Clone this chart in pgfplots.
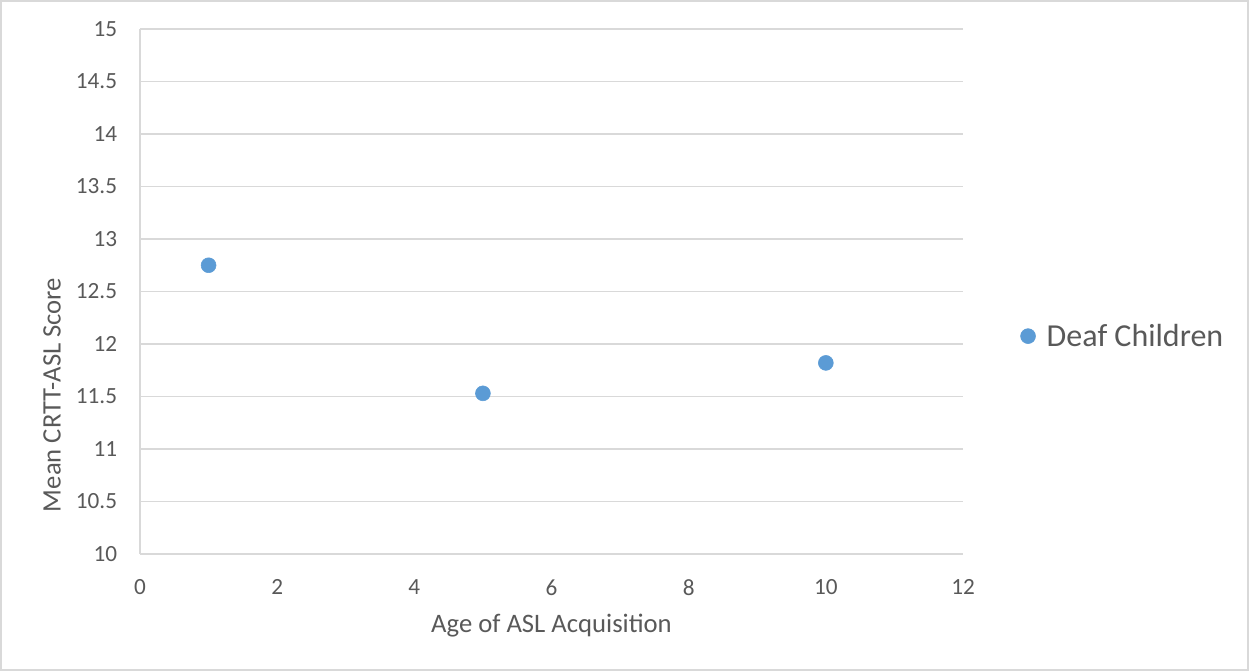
\documentclass[border=0pt]{standalone}
\usepackage{pgfplots}
\pgfplotsset{compat=1.18}
\usepackage{fontspec}
\setmainfont{Carlito}

\definecolor{txtgray}{HTML}{595959}
\definecolor{gridgray}{HTML}{D9D9D9}
\definecolor{dotblue}{HTML}{5B9BD5}

\begin{document}
\begin{tikzpicture}
  % page frame (1 px = 0.75 pt)
  \path[use as bounding box] (0,0) rectangle (936.75pt,503.25pt);
  \draw[gridgray, line width=1.2pt] (0.6pt,0.6pt) rectangle (936.15pt,502.65pt);

  \begin{axis}[
    at={(105pt,87.75pt)}, anchor=south west,
    scale only axis,
    width=617.25pt, height=393.75pt,
    xmin=0, xmax=12, ymin=10, ymax=15,
    xtick={0,2,...,12},
    ytick={10,10.5,...,15},
    axis x line*=bottom, axis y line*=left,
    axis line style={gridgray, line width=1.2pt, -},
    major tick length=0pt,
    ymajorgrids,
    grid style={gridgray, line width=1.2pt},
    /pgf/number format/assume math mode=true,
    /pgf/number format/.cd, fixed, precision=1, /pgfplots/.cd,
    yticklabel style={font=\fontsize{17.4pt}{20pt}\selectfont, text=txtgray, inner sep=0pt, anchor=east, xshift=-17pt},
    xticklabel style={font=\fontsize{17.4pt}{20pt}\selectfont, text=txtgray, inner sep=0pt, anchor=north, yshift=-19pt},
    xlabel={Age of ASL Acquisition},
    ylabel={Mean CRTT-ASL Score},
    label style={font=\fontsize{20pt}{24pt}\selectfont, text=txtgray},
    xlabel style={at={(axis description cs:0.5,-0.137)}, anchor=center, inner sep=0pt},
    ylabel style={at={(axis description cs:-0.1069,0.303)}, anchor=center, inner sep=0pt},
    legend image code/.code={%
      \draw[mark repeat=1,#1] plot coordinates {(0pt,0pt)};
      \path[draw=none] (-6pt,0pt) (12pt,0pt);},
    legend style={at={(axis description cs:1.0693,0.415)}, anchor=west,
      draw=none, fill=none, inner sep=0pt, outer sep=0pt,
      font=\fontsize{24pt}{28pt}\selectfont, text=txtgray,
      cells={anchor=west}},
    clip=false,
  ]
    % mean score at each age of acquisition
    \addplot[dotblue, only marks, mark=*, mark size=5.6pt,
      mark options={fill=dotblue, draw=dotblue}]
      coordinates {(1,12.75) (5,11.53) (10,11.82)};
    \addlegendentry{Deaf Children}
  \end{axis}
\end{tikzpicture}
\end{document}
